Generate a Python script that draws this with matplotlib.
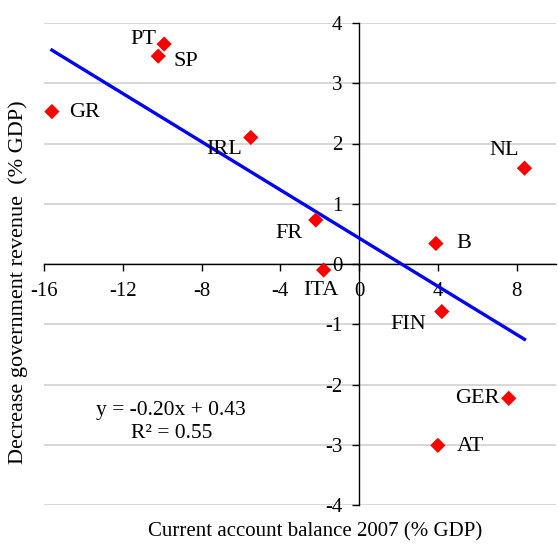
import numpy as np
import matplotlib
matplotlib.use("Agg")
import matplotlib.pyplot as plt

plt.rcParams['font.family'] = ['Liberation Serif', 'DejaVu Serif']
plt.rcParams['axes.unicode_minus'] = False

# current account balance 2007 vs decrease in government revenue (% GDP)
countries = ["PT", "SP", "GR", "IRL", "FR", "ITA", "B", "NL", "FIN", "GER", "AT"]
cab = [-9.9, -10.2, -15.6, -5.5, -2.2, -1.8, 3.9, 8.4, 4.2, 7.6, 4.0]
rev = [3.65, 3.45, 2.53, 2.10, 0.73, -0.10, 0.34, 1.59, -0.79, -2.23, -3.01]

slope = -0.20
intercept = 0.43
r2 = 0.55

# label offsets (points) and alignment
offsets = {
    "PT": (-5.8, 3.5, "right"),
    "SP": (10.8, -3.6, "left"),
    "GR": (12.2, -0.7, "left"),
    "IRL": (-6.5, -9, "right"),
    "FR": (-9.4, -10, "right"),
    "ITA": (-2, -15, "center"),
    "B": (14.4, 0, "left"),
    "NL": (-4.3, 13, "right"),
    "FIN": (-11.5, -9, "right"),
    "GER": (-6.5, 0, "right"),
    "AT": (13.7, -0.7, "left"),
}

fig = plt.figure(figsize=(5.58, 5.45), dpi=100)
ax = fig.add_axes([44 / 558, 40 / 545, 512 / 558, 482 / 545])

ax.set_xlim(-16, 10)
ax.set_ylim(-4, 4)
ax.set_xticks(np.arange(-16, 9, 4))
ax.set_yticks(np.arange(-4, 5, 1))

ax.grid(axis='y', color='#d4d4d4', linewidth=1.3)
ax.set_axisbelow(True)

ax.spines['left'].set_position(('data', 0))
ax.spines['bottom'].set_position(('data', 0))
ax.spines['top'].set_visible(False)
ax.spines['right'].set_visible(False)
ax.spines['left'].set_linewidth(1.0)
ax.spines['bottom'].set_linewidth(1.0)
ax.tick_params(axis='both', labelsize=15, direction='out', length=5, width=1)
ax.tick_params(axis='x', pad=8)
ax.tick_params(axis='y', pad=7)

xs = np.array([min(cab), max(cab)])
ax.plot(xs, slope * xs + intercept, color='#0000ff', linewidth=2.4, zorder=3)

ax.scatter(cab, rev, marker='D', s=60, color='#ff0000', edgecolors='none', zorder=4)

for name, x, y in zip(countries, cab, rev):
    dx, dy, ha = offsets[name]
    ax.annotate(name, (x, y), xytext=(dx, dy), textcoords='offset points',
                ha=ha, va='center', fontsize=16)

ax.text(-9.54, -2.62, f"y = {slope:.2f}x + {intercept:.2f}\nR² = {r2:.2f}",
        ha='center', va='center', fontsize=15.5, linespacing=1.25)

fig.text(315 / 558, 1 - 532 / 545, "Current account balance 2007 (% GDP)",
         ha='center', va='center', fontsize=15)
fig.text(18 / 558, 1 - 282 / 545, "Decrease government revenue  (% GDP)",
         ha='center', va='center', rotation=90, fontsize=16)

fig.savefig("out.png", dpi=100)
